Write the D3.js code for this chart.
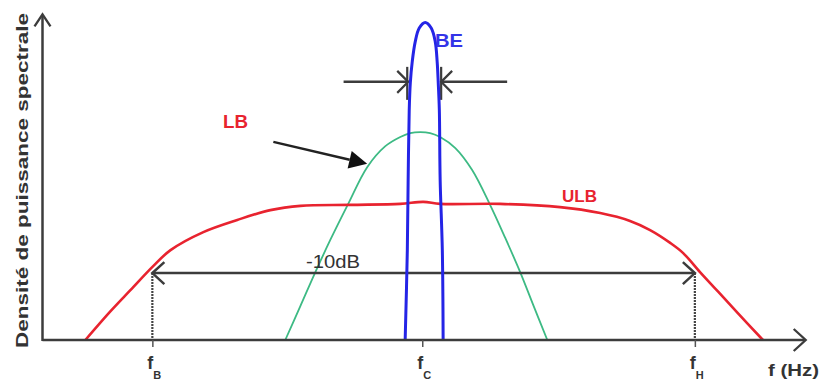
<!DOCTYPE html>
<html><head><meta charset="utf-8">
<script src="https://cdn.jsdelivr.net/npm/d3@7"></script>
<style>html,body{margin:0;padding:0;background:#fff}svg{display:block}</style>
</head><body>
<svg id="chart" width="820" height="382"></svg>
<script>
// Frequency is relative: (f - fC) / (fH - fC). Power density in linear arbitrary units.

// ULB: ultra-large-band spectrum
const ulbFreq  = [-1.242, -1.149, -1.076, -0.991, -0.928, -0.807, -0.682, -0.560, -0.449, -0.265, -0.081, 0.004, 0.066, 0.287, 0.508, 0.656, 0.766, 0.840, 0.914, 0.962, 1.024, 1.090, 1.160, 1.256];
const ulbPower = [0.000, 0.088, 0.152, 0.226, 0.274, 0.329, 0.366, 0.396, 0.409, 0.412, 0.415, 0.421, 0.415, 0.415, 0.405, 0.387, 0.363, 0.335, 0.296, 0.265, 0.207, 0.148, 0.085, 0.000];

// LB: large-band spectrum
const lbFreq  = [-0.505, -0.449, -0.394, -0.339, -0.273, -0.203, -0.136, -0.081, -0.044, -0.007, 0.029, 0.066, 0.122, 0.184, 0.250, 0.306, 0.361, 0.409, 0.461];
const lbPower = [0.000, 0.104, 0.207, 0.305, 0.415, 0.527, 0.591, 0.619, 0.631, 0.634, 0.631, 0.619, 0.585, 0.518, 0.412, 0.311, 0.207, 0.107, 0.000];

// BE: narrow-band spectrum
const beFreq  = [-0.063, -0.055, -0.052, -0.048, -0.044, -0.037, -0.026, -0.011, 0.011, 0.033, 0.048, 0.055, 0.059, 0.063, 0.066, 0.074, 0.077];
const bePower = [0.000, 0.274, 0.488, 0.701, 0.784, 0.848, 0.909, 0.951, 0.968, 0.951, 0.909, 0.848, 0.784, 0.701, 0.488, 0.274, 0.000];

// Frequency marks on the axis
const tickFreqs = [-0.995, 0, 1.005];
const tickSubs  = ["B", "C", "H"];

// -10 dB level and BE width markers
const levelMinus10dB = 0.204;
const beWidthLevel = 0.787;
const beWidthEdges = [-0.048, 0.066];

const axisColor = "#3c3c3c";
const svg = d3.select("#chart");
const x = d3.scaleLinear().domain([-1.4, 1.4]).range([42.5, 802]);
const y = d3.scaleLinear().domain([0, 1]).range([340, 12]);

const line = d3.line().x(d => x(d[0])).y(d => y(d[1])).curve(d3.curveCatmullRom.alpha(0.5));
const zipPts = (a, b) => a.map((v, i) => [v, b[i]]);

function chevron(tipX, tipY, dir, len, half, color, width) {
  let p;
  if (dir === "right") p = [[tipX - len, tipY - half], [tipX, tipY], [tipX - len, tipY + half]];
  else if (dir === "left") p = [[tipX + len, tipY - half], [tipX, tipY], [tipX + len, tipY + half]];
  else p = [[tipX - half, tipY + len], [tipX, tipY], [tipX + half, tipY + len]];
  svg.append("path").attr("d", d3.line()(p)).attr("fill", "none")
    .attr("stroke", color).attr("stroke-width", width).attr("stroke-linejoin", "miter");
}

// dotted guides from the -10 dB level to the axis
[tickFreqs[0], tickFreqs[2]].forEach(f => {
  svg.append("line").attr("x1", x(f)).attr("x2", x(f)).attr("y1", y(levelMinus10dB)).attr("y2", y(0))
    .attr("stroke", "#444").attr("stroke-width", 2.2).attr("stroke-dasharray", "2,1");
});

// curves
svg.append("path").datum(zipPts(lbFreq, lbPower)).attr("d", line)
  .attr("fill", "none").attr("stroke", "#3dba84").attr("stroke-width", 1.8);
svg.append("path").datum(zipPts(ulbFreq, ulbPower)).attr("d", line)
  .attr("fill", "none").attr("stroke", "#e8232f").attr("stroke-width", 2.6);

// -10 dB span arrow
svg.append("line").attr("x1", x(tickFreqs[0])).attr("x2", x(tickFreqs[2]))
  .attr("y1", y(levelMinus10dB)).attr("y2", y(levelMinus10dB))
  .attr("stroke", axisColor).attr("stroke-width", 2.5);
chevron(x(tickFreqs[0]), y(levelMinus10dB), "left", 12, 11, axisColor, 2.5);
chevron(x(tickFreqs[2]), y(levelMinus10dB), "right", 12, 11, axisColor, 2.5);

// BE width markers
const wy = y(beWidthLevel);
svg.append("line").attr("x1", x(-0.29)).attr("x2", x(beWidthEdges[0]) - 1).attr("y1", wy).attr("y2", wy)
  .attr("stroke", axisColor).attr("stroke-width", 2.5);
svg.append("line").attr("x1", x(beWidthEdges[1]) + 1).attr("x2", x(0.313)).attr("y1", wy).attr("y2", wy)
  .attr("stroke", axisColor).attr("stroke-width", 2.5);
chevron(x(beWidthEdges[0]) - 1, wy, "right", 11, 11, axisColor, 2.2);
chevron(x(beWidthEdges[1]) + 1, wy, "left", 11, 11, axisColor, 2.2);
svg.append("line").attr("x1", x(beWidthEdges[0]) - 2).attr("x2", x(beWidthEdges[0]) - 2)
  .attr("y1", wy - 15).attr("y2", wy + 18).attr("stroke", axisColor).attr("stroke-width", 2.2);
svg.append("line").attr("x1", x(beWidthEdges[1]) + 1).attr("x2", x(beWidthEdges[1]) + 1)
  .attr("y1", wy - 15).attr("y2", wy + 18).attr("stroke", axisColor).attr("stroke-width", 2.2);

svg.append("path").datum(zipPts(beFreq, bePower)).attr("d", line)
  .attr("fill", "none").attr("stroke", "#2424e6").attr("stroke-width", 3);

// axes
svg.append("line").attr("x1", x(-1.4)).attr("x2", x(1.41)).attr("y1", y(0)).attr("y2", y(0))
  .attr("stroke", axisColor).attr("stroke-width", 2.5);
svg.append("line").attr("x1", x(-1.4)).attr("x2", x(-1.4)).attr("y1", y(0) + 1).attr("y2", y(0.99))
  .attr("stroke", axisColor).attr("stroke-width", 2.5);
chevron(x(1.41) + 1, y(0), "right", 12, 11, axisColor, 2.3);
chevron(x(-1.4), y(0.99) - 1, "up", 12, 8, axisColor, 2.3);

// tick marks at fB, fC, fH
const ax = svg.append("g").attr("transform", `translate(0,${y(0)})`)
  .call(d3.axisBottom(x).tickValues(tickFreqs).tickSize(7).tickSizeOuter(0).tickFormat(""));
ax.select(".domain").remove();
ax.selectAll(".tick line").attr("stroke", "#555").attr("stroke-width", 1.5);

// tick labels f_B, f_C, f_H
tickFreqs.forEach((f, i) => {
  const t = svg.append("text").attr("x", x(f) - 5).attr("y", 369)
    .attr("font-family", "Liberation Sans, Arial, sans-serif").attr("font-weight", "bold")
    .attr("font-size", 18).attr("fill", "#333");
  t.append("tspan").text("f");
  t.append("tspan").attr("dy", 10).attr("font-size", 11).text(tickSubs[i]);
});

svg.append("text").attr("x", 768).attr("y", 376)
  .attr("font-family", "Liberation Sans, Arial, sans-serif").attr("font-weight", "bold")
  .attr("font-size", 17).attr("fill", "#333").attr("textLength", 51).attr("lengthAdjust", "spacingAndGlyphs")
  .text("f (Hz)");

// y-axis title
svg.append("text").attr("transform", "translate(28,348) rotate(-90)")
  .attr("font-family", "Liberation Sans, Arial, sans-serif").attr("font-weight", "bold")
  .attr("font-size", 17).attr("fill", "#333").attr("textLength", 335).attr("lengthAdjust", "spacingAndGlyphs")
  .text("Densité de puissance spectrale");

// annotations
svg.append("text").attr("x", 306).attr("y", 268)
  .attr("font-family", "Liberation Sans, Arial, sans-serif").attr("font-size", 18)
  .attr("fill", "#333").attr("textLength", 54).attr("lengthAdjust", "spacingAndGlyphs").text("-10dB");

svg.append("text").attr("x", 435).attr("y", 47)
  .attr("font-family", "Liberation Sans, Arial, sans-serif").attr("font-weight", "bold").attr("font-size", 18)
  .attr("fill", "#3434e8").attr("textLength", 28).attr("lengthAdjust", "spacingAndGlyphs").text("BE");

svg.append("text").attr("x", 223).attr("y", 128)
  .attr("font-family", "Liberation Sans, Arial, sans-serif").attr("font-weight", "bold").attr("font-size", 18)
  .attr("fill", "#e8232f").attr("textLength", 25).attr("lengthAdjust", "spacingAndGlyphs").text("LB");

svg.append("text").attr("x", 562).attr("y", 202)
  .attr("font-family", "Liberation Sans, Arial, sans-serif").attr("font-weight", "bold").attr("font-size", 17)
  .attr("fill", "#e8232f").attr("textLength", 35).attr("lengthAdjust", "spacingAndGlyphs").text("ULB");

// arrow pointing from the LB label to the LB curve
const a0 = [x(-0.549), y(0.604)], a1 = [x(-0.203), y(0.537)];
const ang = Math.atan2(a1[1] - a0[1], a1[0] - a0[0]);
const headLen = 18, headHalf = 9;
const base = [a1[0] - headLen * Math.cos(ang), a1[1] - headLen * Math.sin(ang)];
svg.append("line").attr("x1", a0[0]).attr("y1", a0[1]).attr("x2", base[0]).attr("y2", base[1])
  .attr("stroke", "#222").attr("stroke-width", 2.5);
svg.append("path").attr("d", d3.line()([
  a1,
  [base[0] + headHalf * Math.sin(ang), base[1] - headHalf * Math.cos(ang)],
  [base[0] - headHalf * Math.sin(ang), base[1] + headHalf * Math.cos(ang)]
]) + "Z").attr("fill", "#111");
</script>
</body></html>
